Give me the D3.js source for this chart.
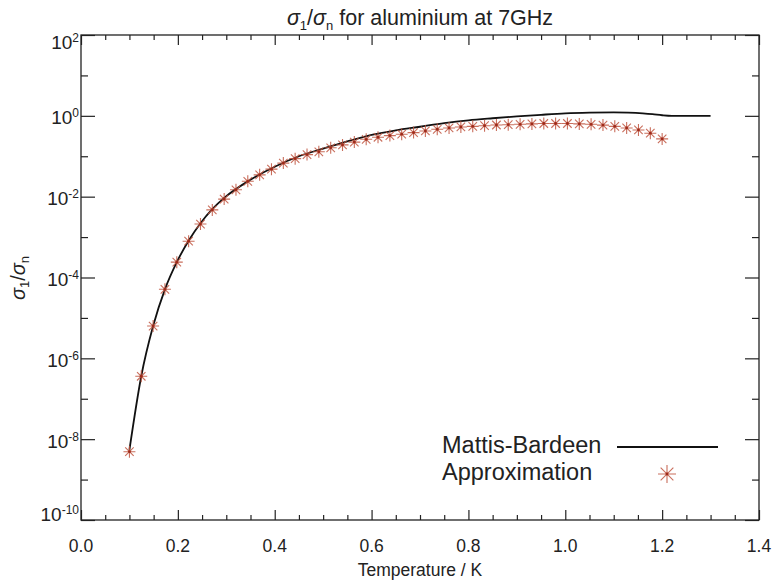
<!DOCTYPE html>
<html><head><meta charset="utf-8">
<script src="https://cdn.jsdelivr.net/npm/d3@7"></script>
<style>
body{margin:0;background:#fff}
svg{display:block}
text{font-family:"Liberation Sans",Arial,Helvetica,sans-serif;fill:#222}
</style>
</head><body>
<svg id="c" width="773" height="581"></svg>
<script>
// ---- data ----
const approxT = [0.1,0.1244,0.1489,0.1733,0.1978,0.2222,0.2467,0.2711,0.2956,0.32,
  0.3444,0.3689,0.3933,0.4178,0.4422,0.4667,0.4911,0.5156,0.54,0.5644,
  0.5889,0.6133,0.6378,0.6622,0.6867,0.7111,0.7356,0.76,0.7844,0.8089,
  0.8333,0.8578,0.8822,0.9067,0.9311,0.9556,0.98,1.0044,1.0289,1.0533,
  1.0778,1.1022,1.1267,1.1511,1.1756,1.2];
const approxVal = [4.9e-9,3.6e-7,6.3e-6,5.1e-5,2.4e-4,7.9e-4,2.1e-3,4.7e-3,8.7e-3,0.0148,
  0.024,0.0347,0.0479,0.0676,0.0871,0.110,0.129,0.162,0.191,0.224,
  0.263,0.295,0.324,0.351,0.385,0.422,0.465,0.501,0.530,0.550,
  0.570,0.593,0.603,0.617,0.631,0.646,0.646,0.646,0.631,0.617,
  0.589,0.550,0.501,0.447,0.372,0.269];
const mbT = [0.1,0.1244,0.1489,0.1733,0.1978,0.2222,0.2467,0.2711,0.2956,0.35,
  0.4,0.45,0.5,0.55,0.6,0.65,0.7,0.75,0.8,0.85,
  0.9,0.95,1.0,1.05,1.1,1.13,1.16,1.18,1.2,1.22,1.3];
const mbVal = [5.4e-9,3.6e-7,6.3e-6,5.1e-5,2.4e-4,8.1e-4,2.2e-3,4.9e-3,9.3e-3,0.0263,
  0.055,0.100,0.155,0.234,0.339,0.437,0.537,0.661,0.776,0.871,
  0.966,1.06,1.15,1.20,1.22,1.20,1.15,1.10,1.035,1.0,1.0];
const xMajorTicks = [0,0.2,0.4,0.6,0.8,1.0,1.2,1.4];
const xMinorTicks = [0.05,0.1,0.15,0.25,0.3,0.35,0.45,0.5,0.55,0.65,0.7,0.75,0.85,0.9,0.95,1.05,1.1,1.15,1.25,1.3,1.35];
const xTickLabels = ["0.0","0.2","0.4","0.6","0.8","1.0","1.2","1.4"];
const yMajorTicks = [1e-10,1e-8,1e-6,1e-4,1e-2,1e0,1e2];
const yTickExps = ["-10","-8","-6","-4","-2","0","2"];
const yMinorTicks = [1e-9,1e-7,1e-5,1e-3,1e-1,1e1];
const seriesNames = ["Mattis-Bardeen","Approximation"];

// ---- layout ----
const L=81,R=759,T=35,B=520;
const svg=d3.select("#c");
const x=d3.scaleLinear().domain([0,1.4]).range([L,R]);
const y=d3.scaleLog().domain([1e-10,1e2]).range([B,T]);
const axCol="#222";

function styleAxis(g){
  g.select(".domain").remove();
  g.selectAll("line").attr("stroke",axCol).attr("stroke-width",1.2);
  g.selectAll("text").remove();
}
// ticks
svg.append("g").attr("transform",`translate(0,${B})`).call(d3.axisBottom(x).tickValues(xMajorTicks).tickSize(-10)).call(styleAxis);
svg.append("g").attr("transform",`translate(0,${B})`).call(d3.axisBottom(x).tickValues(xMinorTicks).tickSize(-5)).call(styleAxis);
svg.append("g").attr("transform",`translate(0,${T})`).call(d3.axisTop(x).tickValues(xMajorTicks).tickSize(-10)).call(styleAxis);
svg.append("g").attr("transform",`translate(0,${T})`).call(d3.axisTop(x).tickValues(xMinorTicks).tickSize(-5)).call(styleAxis);
svg.append("g").attr("transform",`translate(${L},0)`).call(d3.axisLeft(y).tickValues(yMajorTicks).tickSize(-14)).call(styleAxis);
svg.append("g").attr("transform",`translate(${L},0)`).call(d3.axisLeft(y).tickValues(yMinorTicks).tickSize(-7)).call(styleAxis);
svg.append("g").attr("transform",`translate(${R},0)`).call(d3.axisRight(y).tickValues(yMajorTicks).tickSize(-14)).call(styleAxis);
svg.append("g").attr("transform",`translate(${R},0)`).call(d3.axisRight(y).tickValues(yMinorTicks).tickSize(-7)).call(styleAxis);
// frame
svg.append("rect").attr("x",L).attr("y",T).attr("width",R-L).attr("height",B-T)
  .attr("fill","none").attr("stroke",axCol).attr("stroke-width",1.3);

// x labels
svg.append("g").selectAll("text").data(xMajorTicks).join("text")
  .attr("x",d=>x(d)).attr("y",552).attr("text-anchor","middle")
  .attr("font-size",17.5).text((d,i)=>xTickLabels[i]);
// y labels
const yl=svg.append("g").selectAll("text").data(yMajorTicks).join("text")
  .attr("x",79).attr("y",(d,i)=> i===yMajorTicks.length-1 ? y(d)+14 : (i===0 ? y(d)+1 : y(d)+8.5))
  .attr("text-anchor","end").attr("font-size",19);
yl.append("tspan").text("10");
yl.append("tspan").attr("dy",-7).attr("font-size",12).text((d,i)=>yTickExps[i]);

// title
const tt=svg.append("text").attr("x",(L+R)/2).attr("y",25).attr("text-anchor","middle").attr("font-size",21.5);
tt.append("tspan").attr("font-style","italic").text("σ");
tt.append("tspan").attr("font-size",13).attr("dy",5).text("1");
tt.append("tspan").attr("dy",-5).text("/");
tt.append("tspan").attr("font-style","italic").text("σ");
tt.append("tspan").attr("font-size",13).attr("dy",5).text("n");
tt.append("tspan").attr("dy",-5).text(" for aluminium at 7GHz");

// x title
svg.append("text").attr("x",(L+R)/2).attr("y",576).attr("text-anchor","middle").attr("font-size",17.5).text("Temperature / K");
// y title
const yt=svg.append("text").attr("transform","translate(25,278) rotate(-90)").attr("text-anchor","middle").attr("font-size",20);
yt.append("tspan").attr("font-style","italic").text("σ");
yt.append("tspan").attr("font-size",13).attr("dy",4).text("1");
yt.append("tspan").attr("dy",-4).text("/");
yt.append("tspan").attr("font-style","italic").text("σ");
yt.append("tspan").attr("font-size",13).attr("dy",4).text("n");

// line
const mbData=mbT.map((t,i)=>[t,mbVal[i]]);
svg.append("path").datum(mbData)
  .attr("d",d3.line().x(d=>x(d[0])).y(d=>y(d[1])).curve(d3.curveMonotoneX))
  .attr("fill","none").attr("stroke","#111").attr("stroke-width",1.8);

// stars
const starCol="#c0553f";
function star(g,cx,cy,r){
  const a=r*0.7071;
  g.append("path").attr("d",`M${cx-r},${cy}L${cx+r},${cy}M${cx},${cy-r}L${cx},${cy+r}M${cx-a},${cy-a}L${cx+a},${cy+a}M${cx-a},${cy+a}L${cx+a},${cy-a}`)
    .attr("stroke",starCol).attr("stroke-width",1.1).attr("fill","none").attr("opacity",0.85);
  g.append("circle").attr("cx",cx).attr("cy",cy).attr("r",1.4).attr("fill","#9e2a1a");
}
const sg=svg.append("g");
approxT.forEach((t,i)=>star(sg,x(t),y(approxVal[i]),6));

// legend
svg.append("text").attr("x",442).attr("y",453).attr("font-size",23.5).text(seriesNames[0]);
svg.append("text").attr("x",442).attr("y",480).attr("font-size",23.5).text(seriesNames[1]);
svg.append("line").attr("x1",617).attr("x2",718).attr("y1",447).attr("y2",447).attr("stroke","#111").attr("stroke-width",1.8);
star(svg,667,474,9);
</script>
</body></html>
